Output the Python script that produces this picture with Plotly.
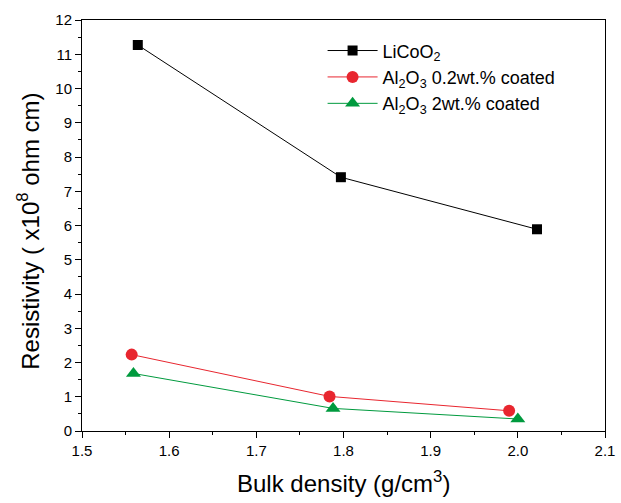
import plotly.graph_objects as go

# Data
x_licoo2 = [1.564, 1.797, 2.022]
y_licoo2 = [11.27, 7.41, 5.89]

x_02 = [1.557, 1.784, 1.990]
y_02 = [2.23, 1.01, 0.59]

x_2 = [1.559, 1.788, 2.000]
y_2 = [1.68, 0.66, 0.35]

names = ["LiCoO<sub>2</sub>",
         "Al<sub>2</sub>O<sub>3</sub> 0.2wt.% coated",
         "Al<sub>2</sub>O<sub>3</sub> 2wt.% coated"]

x_ticks = [1.5, 1.6, 1.7, 1.8, 1.9, 2.0, 2.1]
y_ticks = list(range(0, 13))

x_title = "Bulk density (g/cm<sup>3</sup>)"
y_title = "Resistivity ( x10<sup>8</sup> ohm cm)"

FONT = "Liberation Sans, Arial, sans-serif"

fig = go.Figure()
fig.add_trace(go.Scatter(x=x_licoo2, y=y_licoo2, name=names[0], mode="lines+markers",
                         line=dict(color="black", width=1),
                         marker=dict(symbol="square", size=10, color="black")))
fig.add_trace(go.Scatter(x=x_02, y=y_02, name=names[1], mode="lines+markers",
                         line=dict(color="#E8262F", width=1),
                         marker=dict(symbol="circle", size=12, color="#E8262F")))
fig.add_trace(go.Scatter(x=x_2, y=y_2, name=names[2], mode="lines+markers",
                         line=dict(color="#009A3E", width=1),
                         marker=dict(symbol="triangle-up", size=13, color="#009A3E")))

fig.update_layout(
    width=621, height=503,
    margin=dict(l=82, r=16, t=20, b=72),
    paper_bgcolor="white", plot_bgcolor="white",
    font=dict(family=FONT, color="black", size=15),
    showlegend=True,
    legend=dict(x=0.46, y=0.97, xanchor="left", yanchor="top",
                bgcolor="rgba(0,0,0,0)", font=dict(size=18, family=FONT),
                tracegroupgap=0, itemwidth=50),
    annotations=[
        dict(text=x_title, xref="paper", yref="paper", x=0.5, y=-0.125,
             xanchor="center", yanchor="middle", showarrow=False, font=dict(size=24)),
        dict(text=y_title, xref="paper", yref="paper", x=-0.103, y=0.485,
             xanchor="center", yanchor="middle", textangle=-90, showarrow=False,
             font=dict(size=24)),
    ],
)
fig.update_xaxes(
    range=[1.5, 2.1], tickvals=x_ticks, ticktext=[f"{v:.1f}" for v in x_ticks],
    showgrid=False, zeroline=False,
    showline=True, linecolor="black", linewidth=1, mirror=True,
    ticks="outside", ticklen=6, tickwidth=1, tickcolor="black",
    minor=dict(dtick=0.05, ticks="outside", ticklen=3, tickwidth=1, tickcolor="black", showgrid=False),
    tickfont=dict(size=15), automargin=False,
)
fig.update_yaxes(
    range=[0, 12], tickvals=y_ticks, ticktext=[str(v) for v in y_ticks],
    showgrid=False, zeroline=False,
    showline=True, linecolor="black", linewidth=1, mirror=True,
    ticks="outside", ticklen=6, tickwidth=1, tickcolor="black",
    minor=dict(dtick=0.5, ticks="outside", ticklen=3, tickwidth=1, tickcolor="black", showgrid=False),
    tickfont=dict(size=15), automargin=False,
)

fig.write_html("out.html")
